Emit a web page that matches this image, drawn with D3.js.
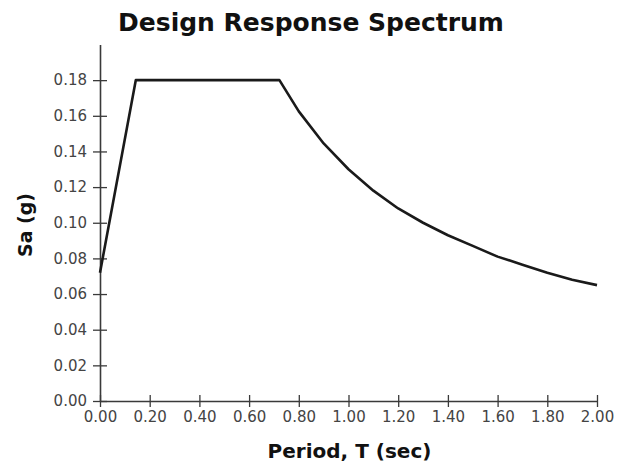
<!DOCTYPE html>
<html>
<head>
<meta charset="utf-8">
<script src="https://cdn.jsdelivr.net/npm/d3@7"></script>
<style>
  html, body { margin: 0; padding: 0; background: #fff; }
  svg { display: block; font-family: "DejaVu Sans", sans-serif; }
</style>
</head>
<body>
<svg id="chart" width="618" height="464"></svg>
<script>
// Period T (sec)
const periods = [0.00, 0.144, 0.722, 0.80, 0.90, 1.00, 1.10, 1.20, 1.30, 1.40, 1.50, 1.60, 1.70, 1.80, 1.90, 2.00];
// Spectral acceleration Sa (g)
const saValues = [0.072, 0.180, 0.180, 0.1625, 0.1445, 0.130, 0.118, 0.108, 0.100, 0.093, 0.087, 0.081, 0.0765, 0.072, 0.068, 0.065];
const xTicks = [0, 0.2, 0.4, 0.6, 0.8, 1.0, 1.2, 1.4, 1.6, 1.8, 2.0];
const yTicks = [0, 0.02, 0.04, 0.06, 0.08, 0.10, 0.12, 0.14, 0.16, 0.18];

const svg = d3.select("#chart");
const mLeft = 100, mRight = 597, mTop = 44.5, mBottom = 401;

const x = d3.scaleLinear().domain([0, 2]).range([mLeft, mRight]);
const y = d3.scaleLinear().domain([0, 0.2]).range([mBottom, mTop]);

const axisColor = "#3a3a3a";
const tickFont = 15;

// X axis
const gx = svg.append("g").attr("transform", `translate(0,${mBottom})`)
  .call(d3.axisBottom(x).tickValues(xTicks).tickFormat(d3.format(".2f")).tickSize(6).tickSizeOuter(0));
gx.select(".domain").attr("stroke", axisColor).attr("stroke-width", 1.6);
gx.selectAll(".tick line").attr("stroke", axisColor).attr("stroke-width", 1.3).attr("y1", -6).attr("y2", 6);
gx.selectAll(".tick text").attr("fill", "#444").attr("font-size", tickFont).attr("font-family", "DejaVu Sans").attr("y", 10);

// Y axis
const gy = svg.append("g").attr("transform", `translate(${mLeft},0)`)
  .call(d3.axisLeft(y).tickValues(yTicks).tickFormat(d3.format(".2f")).tickSize(6).tickSizeOuter(0));
gy.select(".domain").attr("stroke", axisColor).attr("stroke-width", 1.6);
gy.selectAll(".tick line").attr("stroke", axisColor).attr("stroke-width", 1.3).attr("x1", -7).attr("x2", 7);
gy.selectAll(".tick text").attr("fill", "#444").attr("font-size", tickFont).attr("font-family", "DejaVu Sans").attr("x", -13);

// Line
const data = periods.map((t, i) => ({ t, sa: saValues[i] }));
svg.append("path")
  .datum(data)
  .attr("fill", "none")
  .attr("stroke", "#1a1a1a")
  .attr("stroke-width", 2.6)
  .attr("stroke-linejoin", "round")
  .attr("d", d3.line().x(d => x(d.t)).y(d => y(d.sa)));

// Title
svg.append("text")
  .attr("x", 311).attr("y", 31)
  .attr("text-anchor", "middle")
  .attr("font-size", 25).attr("font-weight", "bold")
  .attr("fill", "#111")
  .text("Design Response Spectrum");

// X label
svg.append("text")
  .attr("x", 349.5).attr("y", 458)
  .attr("text-anchor", "middle")
  .attr("font-size", 20).attr("font-weight", "bold")
  .attr("fill", "#111")
  .text("Period, T (sec)");

// Y label
svg.append("text")
  .attr("transform", "translate(25,225) rotate(-90)")
  .attr("text-anchor", "middle")
  .attr("dy", "0.35em")
  .attr("font-size", 19).attr("font-weight", "bold")
  .attr("fill", "#111")
  .text("Sa (g)");
</script>
</body>
</html>
